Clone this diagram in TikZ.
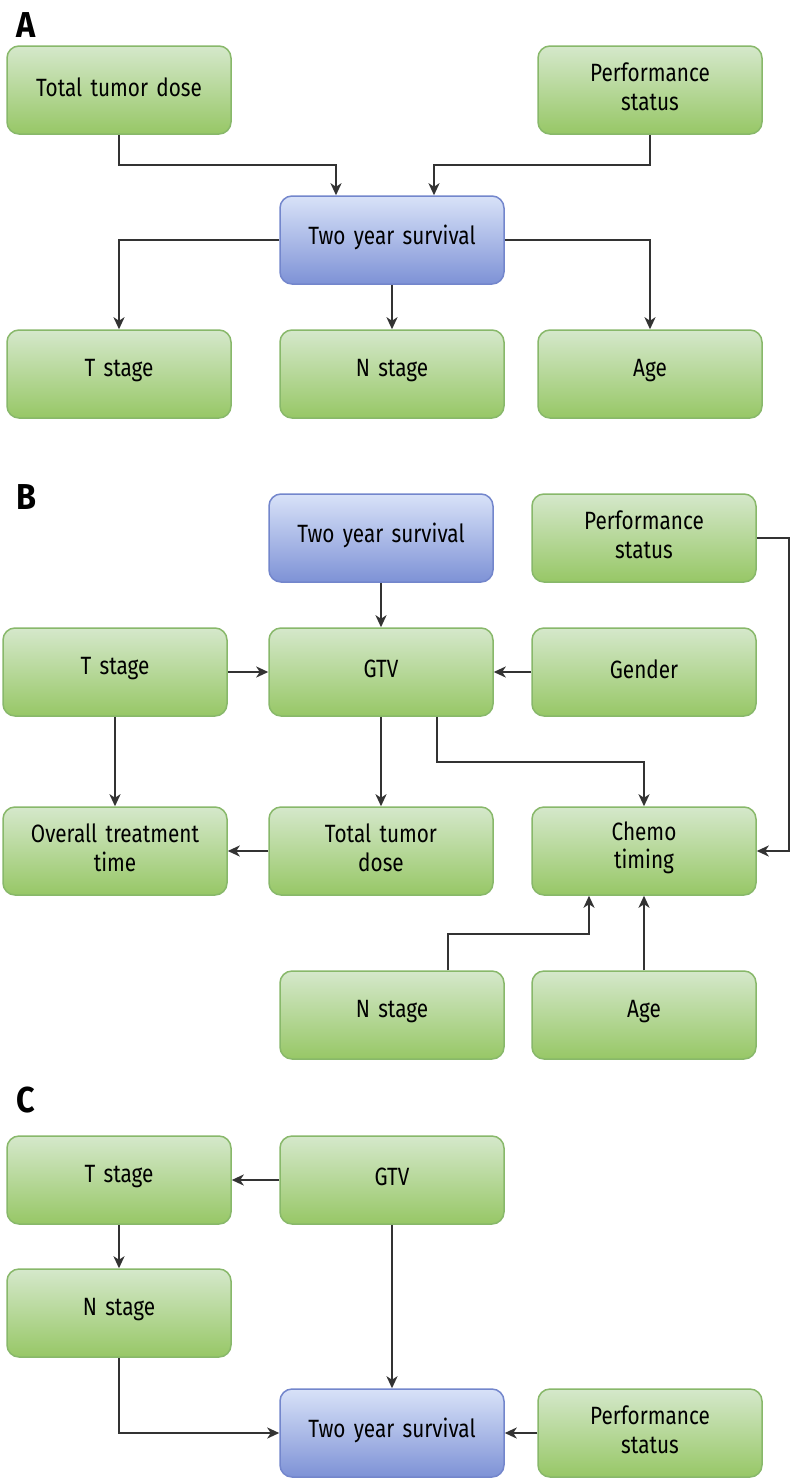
\documentclass[tikz,border=0pt]{standalone}
\usepackage{fontspec}
\setmainfont{Fira Sans}[FakeStretch=0.83]
\newfontfamily\panelfont{Fira Sans}[FakeStretch=0.9]
\usetikzlibrary{arrows.meta}
\definecolor{gtop}{HTML}{D5E8CB}
\definecolor{gbot}{HTML}{97C766}
\definecolor{gline}{HTML}{88B86A}
\definecolor{btop}{HTML}{D8E2F8}
\definecolor{bbot}{HTML}{7E92D6}
\definecolor{bline}{HTML}{7386CC}
\definecolor{aline}{HTML}{333333}
\tikzset{
  box/.style={rectangle, rounded corners=12pt, minimum width=224pt, minimum height=88pt,
    text width=214pt, align=center, font=\fontsize{25}{28.5}\selectfont, line width=1.5pt, inner sep=0pt,
    execute at end node={\par\kern6pt}},
  gbox/.style={box, draw=gline, top color=gtop, bottom color=gbot},
  bbox/.style={box, draw=bline, top color=btop, bottom color=bbot},
  arr/.style={draw=aline, line width=2pt, -{Stealth[length=12pt,width=11pt,inset=3.5pt]}, sharp corners},
  panel/.style={font=\panelfont\fontsize{36}{36}\selectfont\bfseries, anchor=base west, inner sep=0pt}
}
\begin{document}
\begin{tikzpicture}[x=1pt,y=-1pt]
\useasboundingbox (0,0) rectangle (792,1483);
\fill[white] (0,0) rectangle (792,1483);
% Panel A
\node[panel] (labA) at (16,37) {A};
\node[gbox] (tdA) at (119,90) {Total tumor dose};
\node[gbox] (psA) at (650,90) {Performance\\status};
\node[bbox] (twA) at (392,240) {Two year survival};
\node[gbox] (tsA) at (119,374) {T stage};
\node[gbox] (nsA) at (392,374) {N stage};
\node[gbox] (agA) at (650,374) {Age};
\draw[arr] (tdA.south) -- ++(0,30) -| ([xshift=-56pt]twA.north);
\draw[arr] (psA.south) -- ++(0,30) -| ([xshift=42pt]twA.north);
\draw[arr] (twA.west) -| (tsA.north);
\draw[arr] (twA.south) -- (nsA.north);
\draw[arr] (twA.east) -| (agA.north);
% Panel B
\node[panel] (labB) at (16,509) {B};
\node[bbox] (twB) at (381,538) {Two year survival};
\node[gbox] (psB) at (644,538) {Performance\\status};
\node[gbox] (tsB) at (115,672) {T stage};
\node[gbox] (gtvB) at (381,672) {GTV};
\node[gbox] (geB) at (644,672) {Gender};
\node[gbox] (otB) at (115,851) {Overall treatment\\time};
\node[gbox] (tdB) at (381,851) {Total tumor\\dose};
\node[gbox] (chB) at (644,851) {Chemo\\timing};
\node[gbox] (nsB) at (392,1015) {N stage};
\node[gbox] (agB) at (644,1015) {Age};
\draw[arr] (twB.south) -- (gtvB.north);
\draw[arr] (tsB.east) -- (gtvB.west);
\draw[arr] (geB.west) -- (gtvB.east);
\draw[arr] (tsB.south) -- (otB.north);
\draw[arr] (gtvB.south) -- (tdB.north);
\draw[arr] ([xshift=56pt]gtvB.south) -- ++(0,45) -| (chB.north);
\draw[arr] (tdB.west) -- (otB.east);
\draw[arr] (psB.east) -- ++(32,0) |- (chB.east);
\draw[arr] ([xshift=56pt]nsB.north) -- ++(0,-36) -| ([xshift=-55pt]chB.south);
\draw[arr] (agB.north) -- (chB.south);
% Panel C
\node[panel] (labC) at (16,1112) {C};
\node[gbox] (tsC) at (119,1180) {T stage};
\node[gbox] (gtvC) at (392,1180) {GTV};
\node[gbox] (nsC) at (119,1313) {N stage};
\node[bbox] (twC) at (392,1433) {Two year survival};
\node[gbox] (psC) at (650,1433) {Performance\\status};
\draw[arr] (gtvC.west) -- (tsC.east);
\draw[arr] (tsC.south) -- (nsC.north);
\draw[arr] (gtvC.south) -- (twC.north);
\draw[arr] (nsC.south) |- (twC.west);
\draw[arr] (psC.west) -- (twC.east);
\end{tikzpicture}
\end{document}
